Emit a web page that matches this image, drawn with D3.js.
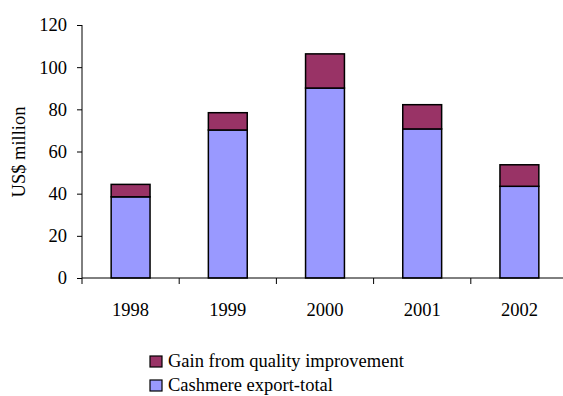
<!DOCTYPE html>
<html>
<head>
<meta charset="utf-8">
<script src="https://cdn.jsdelivr.net/npm/d3@7"></script>
<style>
  html, body { margin: 0; padding: 0; background: #fff; }
  svg { display: block; }
  svg text { font-family: "Liberation Serif", "Times New Roman", Times, "DejaVu Serif", serif; fill: #000; }
</style>
</head>
<body>
<svg id="chart" width="563" height="396"></svg>
<script>
// Cashmere export values, US$ million
const years = ["1998", "1999", "2000", "2001", "2002"];
const exportTotal = [38.5, 70.2, 90.1, 70.7, 43.5];
const qualityGain = [5.9, 8.2, 16.2, 11.5, 10.2];
const yTicks = [0, 20, 40, 60, 80, 100, 120];
const seriesNames = ["Cashmere export-total", "Gain from quality improvement"];
const seriesColors = ["#9999FF", "#993366"];

const FONT = "'Liberation Serif', 'Times New Roman', Times, 'DejaVu Serif', serif";
const FS = 18.5;

const svg = d3.select("#chart").attr("font-family", FONT);

const x = d3.scaleBand().domain(years).range([82, 568]).paddingInner(0.6).paddingOuter(0.3);
const y = d3.scaleLinear().domain([0, 120]).range([278, 25]);

// Stacked layout
const rows = years.map((yr, i) => ({ year: yr, total: exportTotal[i], gain: qualityGain[i] }));
const stack = d3.stack().keys(["total", "gain"])(rows);

const g = svg.append("g");
stack.forEach((layer, li) => {
  g.selectAll(null)
    .data(layer)
    .join("rect")
    .attr("x", d => x(d.data.year))
    .attr("width", x.bandwidth())
    .attr("y", d => y(d[1]))
    .attr("height", d => y(d[0]) - y(d[1]))
    .attr("fill", seriesColors[li])
    .attr("stroke", "#000")
    .attr("stroke-width", 1.5);
});

// Y axis
const yAxis = d3.axisLeft(y).tickValues(yTicks).tickSize(5).tickPadding(10);
const yg = svg.append("g").attr("transform", "translate(82,0)").call(yAxis);
yg.attr("font-family", FONT).attr("font-size", FS);
yg.select(".domain").remove();
yg.append("line").attr("x1", 0).attr("x2", 0).attr("y1", 25).attr("y2", 284).attr("stroke", "#000");
yg.selectAll(".tick line").attr("stroke", "#000");
yg.selectAll(".tick text").attr("font-family", FONT).attr("font-size", FS);

// X axis with ticks between categories
const xg = svg.append("g").attr("transform", "translate(0,278)");
xg.append("line").attr("x1", 82).attr("x2", 568).attr("y1", 0).attr("y2", 0).attr("stroke", "#000");
const step = x.step();
const bounds = years.slice(1).map(yr => x(yr) - (step - x.bandwidth()) / 2);
xg.selectAll(".sep")
  .data(bounds)
  .join("line")
  .attr("x1", d => d).attr("x2", d => d)
  .attr("y1", 0).attr("y2", 6)
  .attr("stroke", "#000");
xg.selectAll(".lbl")
  .data(years)
  .join("text")
  .attr("x", d => x(d) + x.bandwidth() / 2)
  .attr("y", 38)
  .attr("text-anchor", "middle")
  .attr("font-family", FONT)
  .attr("font-size", FS)
  .text(d => d);

// Y axis title
svg.append("text")
  .attr("transform", "translate(25,152) rotate(-90)")
  .attr("text-anchor", "middle")
  .attr("font-family", FONT)
  .attr("font-size", FS)
  .text("US$ million");

// Legend (gain first, then total)
const legendItems = [
  { name: seriesNames[1], color: seriesColors[1] },
  { name: seriesNames[0], color: seriesColors[0] }
];
const lg = svg.append("g").attr("transform", "translate(150,356)");
legendItems.forEach((item, i) => {
  const row = lg.append("g").attr("transform", `translate(0,${i * 24})`);
  row.append("rect")
    .attr("x", 0).attr("y", 0).attr("width", 12).attr("height", 11)
    .attr("fill", item.color).attr("stroke", "#000").attr("stroke-width", 1.2);
  row.append("text")
    .attr("x", 18).attr("y", 11)
    .attr("font-family", FONT)
    .attr("font-size", FS)
    .text(item.name);
});
</script>
</body>
</html>
